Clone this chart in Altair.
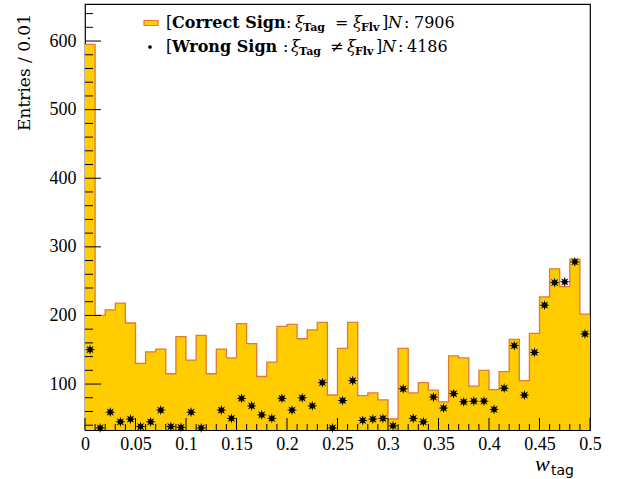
import math
import altair as alt
import pandas as pd

# ---- histogram contents: 50 bins of width 0.01 on [0, 0.5] ----
BIN_WIDTH = 0.01
correct_sign = [595, 200, 208, 218, 189, 130, 147, 151, 115, 169,
                135, 171, 115, 151, 138, 188, 159, 111, 132, 184,
                187, 166, 179, 190, 84, 152, 190, 83, 87, 77,
                49, 152, 87, 102, 91, 74, 141, 138, 97, 120,
                92, 118, 165, 105, 174, 227, 268, 242, 282, 202]
wrong_sign = [150, 36, 59, 45, 49, 38, 45, 62, 38, 37,
              59, 36, 25, 62, 50, 79, 68, 55, 50, 79,
              62, 80, 68, 102, 36, 76, 105, 47, 49, 50,
              39, 93, 50, 45, 81, 65, 86, 74, 75, 75,
              63, 94, 156, 84, 146, 215, 248, 249, 278, 173]

x_major = [0, 0.05, 0.1, 0.15, 0.2, 0.25, 0.3, 0.35, 0.4, 0.45, 0.5]
y_major = [100, 200, 300, 400, 500, 600]

# ---- frame geometry / style ----
W, H = 505, 426
Y_MIN, Y_MAX = 33, 654
FILL = "#ffcc00"
EDGE = "#e07a35"
SERIF = "Liberation Serif"
LSERIF = "DejaVu Serif"

edges = [round(i * BIN_WIDTH, 2) for i in range(len(correct_sign))]
centers = [round(e + BIN_WIDTH / 2, 3) for e in edges]
x_minor = [round(i * BIN_WIDTH, 2) for i in range(51) if i % 5]
y_minor = [v for v in range(40, Y_MAX, 20) if v % 100]

hist = pd.DataFrame({"edge": edges + [0.5],
                     "count": correct_sign + [correct_sign[-1]]})
pts = pd.DataFrame({"center": centers, "count": wrong_sign})

xs = alt.Scale(domain=[0, 0.5], nice=False, zero=False)
ys = alt.Scale(domain=[Y_MIN, Y_MAX], nice=False, zero=False)

x_axis = alt.Axis(values=x_major, format="~g", ticks=False, tickSize=0,
                  domain=False, grid=False, labelFont=SERIF,
                  labelFontSize=18, labelPadding=5, labelFlush=False,
                  labelOverlap=False, labelColor="black", title=None)
y_axis = alt.Axis(values=y_major, ticks=False, tickSize=0, domain=False,
                  grid=False, labelFont=SERIF, labelFontSize=18,
                  labelPadding=9, labelColor="black", title=None)


def X(field):
    return alt.X(f"{field}:Q", scale=xs, axis=x_axis)


def Y(field):
    return alt.Y(f"{field}:Q", scale=ys, axis=y_axis)


# 8-pointed star marker for the wrong-sign points
star_pts = []
for k in range(16):
    r = 1.0 if k % 2 == 0 else 0.45
    a = math.pi * k / 8 - math.pi / 2
    star_pts.append(f"{r * math.cos(a):.3f},{r * math.sin(a):.3f}")
STAR = "M" + " L".join(star_pts) + " Z"

area = alt.Chart(hist).mark_area(interpolate="step-after", color=FILL).encode(
    x=X("edge"), y=Y("count"), y2=alt.datum(Y_MIN),
)
outline = alt.Chart(hist).mark_line(
    interpolate="step-after", color=EDGE, strokeWidth=1.3
).encode(x=X("edge"), y=Y("count"))
points = alt.Chart(pts).transform_filter(
    alt.datum.count >= Y_MIN
).mark_point(shape=STAR, filled=True, size=105, color="black", opacity=1).encode(
    x=X("center"), y=Y("count"),
)


def x_ticks(values, length):
    return alt.Chart(pd.DataFrame({"v": values})).mark_rule(
        color="black", strokeWidth=1
    ).encode(x=X("v"), y=alt.value(H), y2=alt.value(H - length))


def y_ticks(values, length):
    return alt.Chart(pd.DataFrame({"v": values})).mark_rule(
        color="black", strokeWidth=1
    ).encode(y=Y("v"), x=alt.value(0), x2=alt.value(length))


def txt(s, x, y, size=16, weight="normal", style="normal", font=LSERIF,
        angle=0, align="left", baseline="alphabetic"):
    return alt.Chart(alt.Data(values=[{}])).mark_text(
        text=s, font=font, fontSize=size, fontWeight=weight,
        fontStyle=style, align=align, baseline=baseline, angle=angle,
        color="black",
    ).encode(x=alt.value(x), y=alt.value(y))


# legend entries (plot coordinates: frame origin at top-left)
swatch = alt.Chart(alt.Data(values=[{}])).mark_rect(
    fill=FILL, stroke=EDGE, strokeWidth=1.2
).encode(x=alt.value(59), x2=alt.value(73), y=alt.value(16.5), y2=alt.value(21.5))
dot = alt.Chart(alt.Data(values=[{}])).mark_point(
    shape="circle", filled=True, size=14, color="black", opacity=1
).encode(x=alt.value(65), y=alt.value(43))

r1, s1 = 24, 27
r2, s2 = 48, 51
legend = [
    txt("[", 81, r1), txt("Correct Sign", 87, r1, weight="bold"),
    txt(":", 201, r1), txt("ξ", 210, r1, style="italic"),
    txt("Tag", 218, s1, size=11, weight="bold"), txt("=", 250, r1),
    txt("ξ", 268, r1, style="italic"), txt("Flv", 276, s1, size=11, weight="bold"),
    txt("]", 297, r1), txt("N", 303, r1, style="italic"),
    txt(":", 319, r1), txt("7906", 329, r1),
    txt("[", 81, r2), txt("Wrong Sign", 87, r2, weight="bold"),
    txt(":", 198, r2), txt("ξ", 206, r2, style="italic"),
    txt("Tag", 214, s2, size=11, weight="bold"), txt("≠", 245, r2),
    txt("ξ", 262, r2, style="italic"), txt("Flv", 270, s2, size=11, weight="bold"),
    txt("]", 291, r2), txt("N", 297, r2, style="italic"),
    txt(":", 313, r2), txt("4186", 322, r2),
]

titles = [
    txt("Entries / 0.01", -60, 10, size=17, angle=270, align="right",
        baseline="middle"),
    txt("w", 450, 467, size=22, style="italic", font=SERIF),
    txt("tag", 466, 471, size=14, font="DejaVu Sans"),
]

chart = alt.layer(
    area, outline,
    x_ticks(x_minor, 6), x_ticks(x_major, 12),
    y_ticks(y_minor, 8), y_ticks(y_major, 16),
    points, swatch, dot, *legend, *titles,
).properties(
    width=W, height=H,
    autosize=alt.AutoSizeParams(type="none"),
    padding={"left": 85, "top": 4, "right": 32, "bottom": 49},
    background="white",
).configure_view(stroke="black", strokeWidth=1.2)

chart.save("out.html", embed_options={"renderer": "svg", "actions": False})
